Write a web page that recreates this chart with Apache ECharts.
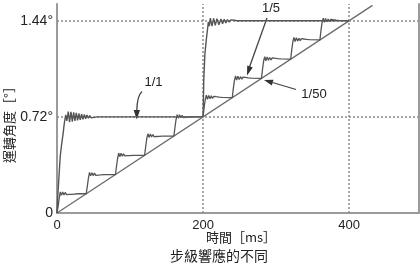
<!DOCTYPE html>
<html><head><meta charset="utf-8">
<script src="https://cdn.jsdelivr.net/npm/echarts@6/dist/echarts.min.js"></script>
<style>html,body{margin:0;padding:0;background:#fff}#c{width:420px;height:272px}</style>
</head><body><div id="c"></div>
<script>
// ---- data (time in ms, angle in degrees) ----
const xTicks = [0, 200, 400];
const xTickLabels = ['0', '200', '400'];
const yTicks = [0, 0.72, 1.44];
const yTickLabels = ['0', '0.72°', '1.44°'];
const seriesNames = ['1/1', '1/5', '1/50'];

const full1_1 = [
  [0,0],[1,0.12],[3,0.3],[4.5,0.43],[6,0.5],[7.5,0.56],[8.5,0.6],[9.5,0.65],[10.5,0.69],[12,0.735],
  [13.5,0.69],[15.4,0.76],[17.2,0.68],[19.1,0.757],[21,0.684],[22.8,0.753],[24.6,0.69],[26.4,0.749],
  [28.2,0.694],[30,0.745],[31.8,0.698],[33.7,0.741],[35.5,0.702],[37.4,0.737],[39.2,0.706],[41,0.733],
  [43,0.71],[45,0.729],[47,0.713],[49,0.726],[51,0.716],[53,0.723],[55,0.72],
  [200,0.72],
  [201,1.0],[202.5,1.19],[203.8,1.2],[204.5,1.3],[206,1.37],[207.2,1.43],[208.5,1.40],[210,1.46],
  [212.2,1.4],[214.5,1.458],[216.7,1.405],[219,1.455],[221.7,1.41],[224.5,1.452],[226.7,1.417],
  [229,1.45],[231.2,1.423],[233.5,1.448],[235.8,1.43],[238,1.446],[240.5,1.433],[243,1.443],[246,1.44],
  [400,1.44]
];

const micro1_5 = [
  [0,0],[1.5,0.05],[3,0.11],[4.5,0.158],[6,0.132],[7.8,0.157],[9.5,0.135],[11.3,0.154],[13,0.138],
  [14.8,0.151],[16.5,0.139],[18.3,0.149],[20,0.14],[22,0.147],[24,0.142],[26,0.146],[28,0.144],[40,0.144],
  [41.5,0.2],[43,0.26],[44.5,0.304],[46,0.278],[47.8,0.302],[49.5,0.28],[51.3,0.299],[53,0.282],
  [54.8,0.296],[56.5,0.284],[58.3,0.294],[60,0.285],[62,0.292],[64,0.287],[66,0.29],[68,0.288],[80,0.288],
  [81.5,0.35],[83,0.41],[84.5,0.449],[86,0.422],[87.8,0.447],[89.5,0.425],[91.3,0.443],[93,0.427],
  [94.8,0.44],[96.5,0.429],[98.3,0.438],[100,0.43],[102,0.436],[104,0.431],[106,0.434],[108,0.432],[120,0.432],
  [121.5,0.5],[123,0.56],[124.5,0.593],[126,0.566],[127.8,0.591],[129.5,0.57],[131.3,0.588],[133,0.571],
  [134.8,0.584],[136.5,0.573],[138.3,0.582],[140,0.574],[142,0.58],[144,0.575],[146,0.578],[148,0.576],[160,0.576],
  [161.5,0.64],[163,0.7],[164.5,0.737],[166,0.71],[167.8,0.735],[169.5,0.713],[171.3,0.732],[173,0.715],
  [174.8,0.728],[176.5,0.717],[178.3,0.726],[180,0.718],[182,0.724],[184,0.719],[186,0.722],[188,0.72],[200,0.72],
  [201.5,0.79],[203,0.85],[204.5,0.882],[206,0.852],[207.8,0.88],[209.5,0.855],[211.3,0.877],[213,0.858],
  [214.8,0.874],[216.5,0.86],[218.3,0.871],[220,0.861],[222,0.868],[224,0.862],[226,0.866],[228,0.864],[240,0.864],
  [241.5,0.935],[243,0.995],[244.5,1.026],[246,0.996],[247.8,1.024],[249.5,0.999],[251.3,1.021],[253,1.002],
  [254.8,1.018],[256.5,1.004],[258.3,1.015],[260,1.005],[262,1.012],[264,1.006],[266,1.01],[268,1.008],[280,1.008],
  [281.5,1.08],[283,1.14],[284.5,1.17],[286,1.14],[287.8,1.168],[289.5,1.143],[291.3,1.165],[293,1.146],
  [294.8,1.162],[296.5,1.148],[298.3,1.159],[300,1.149],[302,1.156],[304,1.15],[306,1.154],[308,1.152],[320,1.152],
  [321.5,1.225],[323,1.284],[324.5,1.314],[326,1.284],[327.8,1.312],[329.5,1.287],[331.3,1.309],[333,1.29],
  [334.8,1.306],[336.5,1.292],[338.3,1.303],[340,1.293],[342,1.3],[344,1.294],[346,1.298],[348,1.296],[360,1.296],
  [361.5,1.37],[363,1.428],[364.5,1.458],[366,1.428],[367.8,1.456],[369.5,1.431],[371.3,1.453],[373,1.434],
  [374.8,1.45],[376.5,1.436],[378.3,1.447],[380,1.437],[382,1.444],[384,1.438],[386,1.442],[388,1.44],[400,1.44]
];

const micro1_50 = [[0,0],[432,1.555]];

const gridXs = [200, 400];
const gridYs = [0.72, 1.44];

// ---- chart ----
const NUM_FONT = "'Liberation Sans',Arial,sans-serif";
const CJK_FONT = "'Noto Sans CJK TC','Noto Sans CJK SC',sans-serif";
const near = (a, b) => Math.abs(a - b) < 1e-6;
const chart = echarts.init(document.getElementById('c'), null, {renderer: 'canvas'});
const axisGray = '#9a9a9a';

chart.setOption({
  animation: false,
  backgroundColor: '#fff',
  grid: {left: 57, right: 1.5, top: 4, bottom: 59, containLabel: false},
  xAxis: {
    type: 'value', min: 0, max: 495, interval: 200,
    axisLine: {show: true, onZero: false, lineStyle: {color: axisGray, width: 2}},
    axisTick: {show: false},
    splitLine: {show: false},
    axisLabel: {
      margin: 6, color: '#222', fontSize: 13, fontFamily: NUM_FONT,
      showMaxLabel: false,
      formatter: v => { const i = xTicks.findIndex(t => near(t, v)); return i >= 0 ? xTickLabels[i] : ''; }
    }
  },
  yAxis: [{
    type: 'value', min: 0, max: 1.565, interval: 0.72,
    axisLine: {show: true, onZero: false, lineStyle: {color: axisGray, width: 2}},
    axisTick: {show: false},
    splitLine: {show: false},
    axisLabel: {
      margin: 4, color: '#222', fontSize: 14, fontFamily: NUM_FONT,
      showMaxLabel: false,
      formatter: v => { const i = yTicks.findIndex(t => near(t, v)); return i >= 0 ? yTickLabels[i] : ''; }
    }
  }, {
    type: 'value', min: 0, max: 1.565, position: 'right',
    axisLine: {show: true, onZero: false, lineStyle: {color: axisGray, width: 2}},
    axisTick: {show: false}, axisLabel: {show: false}, splitLine: {show: false}
  }],
  series: [
    {
      type: 'line', name: 'grid', data: [], z: 1, silent: true,
      markLine: {
        silent: true, symbol: ['none', 'none'], animation: false,
        label: {show: false},
        lineStyle: {color: '#8a8a8a', width: 1.5, type: [2, 2]},
        data: gridXs.map(x => ({xAxis: x})).concat(gridYs.map(y => ({yAxis: y})))
      }
    },
    {type: 'line', name: seriesNames[2], data: micro1_50, showSymbol: false, z: 3,
     lineStyle: {color: '#6a6a6a', width: 1.3}},
    {type: 'line', name: seriesNames[1], data: micro1_5, showSymbol: false, z: 4,
     lineStyle: {color: '#555', width: 1.3}},
    {type: 'line', name: seriesNames[0], data: full1_1, showSymbol: false, z: 5,
     lineStyle: {color: '#555', width: 1.4}}
  ],
  graphic: [
    // axis names
    {type: 'text', x: 241, y: 237, style: {text: '時間［ms］', font: "13px " + CJK_FONT, fill: '#222', align: 'center', verticalAlign: 'middle'}},
    {type: 'text', x: 219, y: 256, style: {text: '步級響應的不同', font: "14px " + CJK_FONT, fill: '#222', align: 'center', verticalAlign: 'middle'}},
    {type: 'text', x: 9, y: 121.5, rotation: Math.PI / 2, style: {text: '運轉角度［°］', font: "13px " + CJK_FONT, fill: '#222', align: 'center', verticalAlign: 'middle'}},
    // annotation labels
    {type: 'text', x: 153.5, y: 82.5, style: {text: seriesNames[0], font: "13px " + NUM_FONT, fill: '#222', align: 'center', verticalAlign: 'middle'}},
    {type: 'text', x: 271, y: 8.5, style: {text: seriesNames[1], font: "13px " + NUM_FONT, fill: '#222', align: 'center', verticalAlign: 'middle'}},
    {type: 'text', x: 314, y: 94, style: {text: seriesNames[2], font: "13px " + NUM_FONT, fill: '#222', align: 'center', verticalAlign: 'middle'}},
    // arrow 1/1 (curved)
    {type: 'bezierCurve', shape: {x1: 142, y1: 91.5, x2: 136.8, y2: 111, cpx1: 137, cpy1: 96}, style: {stroke: '#444', lineWidth: 1.3, fill: null}},
    {type: 'polygon', shape: {points: [[136.8, 119.5], [133.6, 110], [140, 110]]}, style: {fill: '#333'}},
    // arrow 1/5
    {type: 'line', shape: {x1: 267, y1: 18, x2: 249.5, y2: 67}, style: {stroke: '#444', lineWidth: 1.3}},
    {type: 'polygon', shape: {points: [[247, 75.5], [252.8, 67.5], [247.2, 65.5]]}, style: {fill: '#333'}},
    // arrow 1/50
    {type: 'line', shape: {x1: 296, y1: 89.5, x2: 272.5, y2: 82.5}, style: {stroke: '#444', lineWidth: 1.3}},
    {type: 'polygon', shape: {points: [[264, 80], [273.5, 79.7], [271.8, 85.5]]}, style: {fill: '#333'}}
  ]
});
</script></body></html>
